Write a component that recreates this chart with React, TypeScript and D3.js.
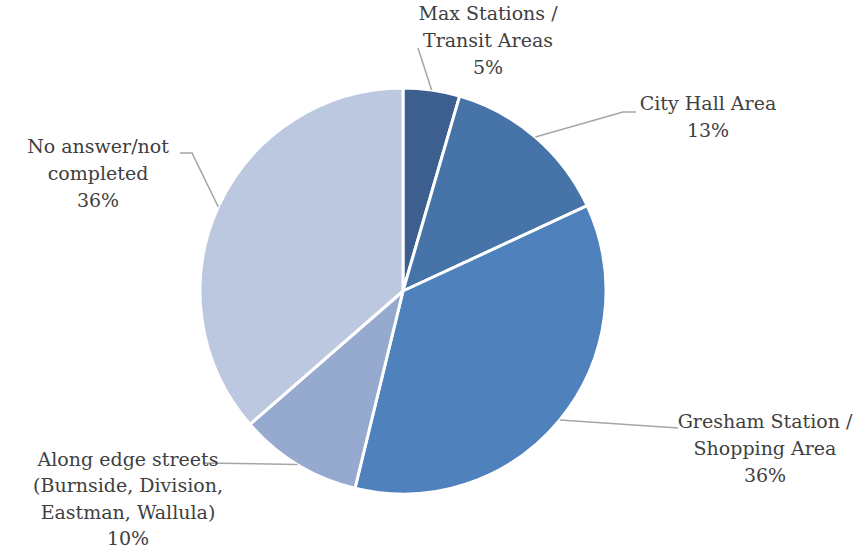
import React from "react";
import * as d3 from "d3";

const categories = [
  "Max Stations /\nTransit Areas",
  "City Hall Area",
  "Gresham Station /\nShopping Area",
  "Along edge streets\n(Burnside, Division,\nEastman, Wallula)",
  "No answer/not\ncompleted",
];
const values = [4.5, 13.6, 35.7, 9.8, 36.4];
const percentLabels = ["5%", "13%", "36%", "10%", "36%"];
const colors = ["#3C5F8F", "#4673A8", "#4F81BD", "#96A9CF", "#BCC8E0"];

// label layout: text centre x, first line y, line spacing, leader elbow (x,y) and end (x,y)
const labelLayout = [
  { x: 488, y: 22, lh: 27, elbow: null, end: [418, 48] },
  { x: 708, y: 112, lh: 27, elbow: [623, 112], end: [636, 112] },
  { x: 765, y: 430, lh: 27, elbow: null, end: [678, 428] },
  { x: 128, y: 468, lh: 26.3, elbow: null, end: [203, 463] },
  { x: 98, y: 155, lh: 27, elbow: [192, 153], end: [180, 153] },
];

const W = 866;
const H = 550;
const cx = 403;
const cy = 291;
const R = 203;

export default function App() {
  const pie = d3.pie<number>().sort(null).value((d) => d)(values);
  const arc = d3.arc<d3.PieArcDatum<number>>().innerRadius(0).outerRadius(R);

  return (
    <svg width={W} height={H} style={{ position: "absolute", left: 0, top: 0, background: "#fff" }}>
      <g transform={`translate(${cx},${cy})`}>
        {pie.map((p, i) => (
          <path key={i} d={arc(p) || ""} fill={colors[i]} stroke="#fff" strokeWidth={3} strokeLinejoin="round" />
        ))}
      </g>
      {pie.map((p, i) => {
        const mid = (p.startAngle + p.endAngle) / 2;
        const sx = cx + R * Math.sin(mid);
        const sy = cy - R * Math.cos(mid);
        const L = labelLayout[i];
        const pts: number[][] = [[sx, sy]];
        if (L.elbow) pts.push(L.elbow as number[]);
        pts.push(L.end as number[]);
        const line = d3.line()(pts as [number, number][]) || "";
        return <path key={"l" + i} d={line} fill="none" stroke="#A6A6A6" strokeWidth={1.5} />;
      })}
      {categories.map((c, i) => {
        const L = labelLayout[i];
        const lines = [...c.split("\n"), percentLabels[i]];
        return (
          <text
            key={"t" + i}
            x={L.x}
            y={L.y}
            textAnchor="middle"
            fontFamily="'DejaVu Serif', serif"
            fontSize={19}
            fill="#404040"
            dominantBaseline="middle"
          >
            {lines.map((t, j) => (
              <tspan key={j} x={L.x} y={L.y + j * L.lh - 7}>
                {t}
              </tspan>
            ))}
          </text>
        );
      })}
    </svg>
  );
}
